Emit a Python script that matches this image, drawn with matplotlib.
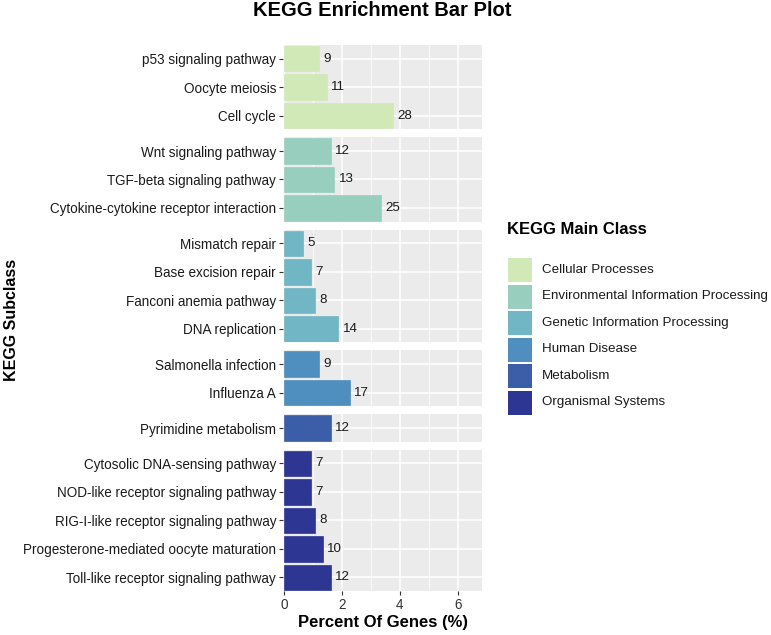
import matplotlib
matplotlib.use("Agg")
import matplotlib.pyplot as plt
from matplotlib.patches import Rectangle
from matplotlib.ticker import MultipleLocator

plt.rcParams["font.family"] = ["Liberation Sans", "DejaVu Sans"]

# data
main_classes = [
    "Cellular Processes",
    "Environmental Information Processing",
    "Genetic Information Processing",
    "Human Disease",
    "Metabolism",
    "Organismal Systems",
]
class_colors = ["#d1e9b6", "#98cebe", "#70b6c4", "#4f8fc0", "#3c5ea8", "#2e3694"]

pathways = [
    ["p53 signaling pathway", "Oocyte meiosis", "Cell cycle"],
    ["Wnt signaling pathway", "TGF-beta signaling pathway",
     "Cytokine-cytokine receptor interaction"],
    ["Mismatch repair", "Base excision repair", "Fanconi anemia pathway",
     "DNA replication"],
    ["Salmonella infection", "Influenza A"],
    ["Pyrimidine metabolism"],
    ["Cytosolic DNA-sensing pathway", "NOD-like receptor signaling pathway",
     "RIG-I-like receptor signaling pathway",
     "Progesterone-mediated oocyte maturation",
     "Toll-like receptor signaling pathway"],
]
gene_counts = [
    [9, 11, 28],
    [12, 13, 25],
    [5, 7, 8, 14],
    [9, 17],
    [12],
    [7, 7, 8, 10, 12],
]
gene_pct = [
    [1.21, 1.48, 3.76],
    [1.61, 1.74, 3.36],
    [0.67, 0.94, 1.07, 1.88],
    [1.21, 2.28],
    [1.61],
    [0.94, 0.94, 1.07, 1.34, 1.61],
]

W, H = 771, 635
fig = plt.figure(figsize=(W / 100, H / 100), dpi=100)

heights = [len(p) - 0.04 for p in pathways]
gs = fig.add_gridspec(
    len(pathways), 1, height_ratios=heights,
    left=283 / W, right=482 / W, top=1 - 45 / H, bottom=1 - 591 / H,
    hspace=0.095,
)

tick_color = "#333333"
for i, (names, counts, pct) in enumerate(zip(pathways, gene_counts, gene_pct)):
    ax = fig.add_subplot(gs[i])
    ax.set_facecolor("#ebebeb")
    n = len(names)
    ypos = list(range(n))
    ax.barh(ypos, pct, height=0.9, color=class_colors[i],
            edgecolor=class_colors[i], linewidth=0.5, zorder=3)
    for y, v, c in zip(ypos, pct, counts):
        ax.annotate(str(c), (v, y), xytext=(3, 0), textcoords="offset points",
                    ha="left", va="center", fontsize=9.6, color="#1a1a1a",
                    zorder=4)
    ax.set_xlim(-0.03, 6.83)
    ax.set_ylim(n - 1 + 0.48, -0.48)
    ax.set_yticks(ypos)
    ax.set_yticklabels(names, fontsize=9.75, color="#1a1a1a")
    ax.xaxis.set_major_locator(MultipleLocator(2))
    ax.xaxis.set_minor_locator(MultipleLocator(1))
    ax.grid(which="major", color="white", linewidth=1.1, zorder=1)
    ax.grid(which="minor", axis="x", color="white", linewidth=0.55, zorder=1)
    for s in ax.spines.values():
        s.set_visible(False)
    ax.tick_params(axis="y", length=3, width=0.8, color=tick_color, pad=2)
    ax.tick_params(axis="x", which="minor", length=0)
    if i < len(pathways) - 1:
        ax.tick_params(axis="x", which="major", length=0, labelbottom=False)
    else:
        ax.tick_params(axis="x", which="major", length=3, width=0.8,
                       color=tick_color, labelsize=9.75, labelcolor="#333333",
                       pad=2)
        ax.set_xlabel("Percent Of Genes (%)", fontsize=12, fontweight="bold",
                      labelpad=2)

fig.text(382 / W, 1 - 10 / H, "KEGG Enrichment Bar Plot", ha="center",
         va="center", fontsize=14.5, fontweight="bold")
fig.text(12 / W, 1 - 320 / H, "KEGG Subclass", ha="center", va="center",
         rotation=90, fontsize=11.5, fontweight="bold")

# legend drawn in pixel coordinates
lax = fig.add_axes([0, 0, 1, 1], facecolor="none")
lax.set_xlim(0, W)
lax.set_ylim(H, 0)
lax.axis("off")
lax.text(507, 230, "KEGG Main Class", ha="left", va="center", fontsize=12,
         fontweight="bold")
for k, (name, col) in enumerate(zip(main_classes, class_colors)):
    top = 258 + k * 26.5
    lax.add_patch(Rectangle((508, top), 24, 24, facecolor=col, edgecolor="none"))
    lax.text(542, top + 12, name, ha="left", va="center", fontsize=9.6,
             color="#1a1a1a")

fig.savefig("out.png", dpi=100)
